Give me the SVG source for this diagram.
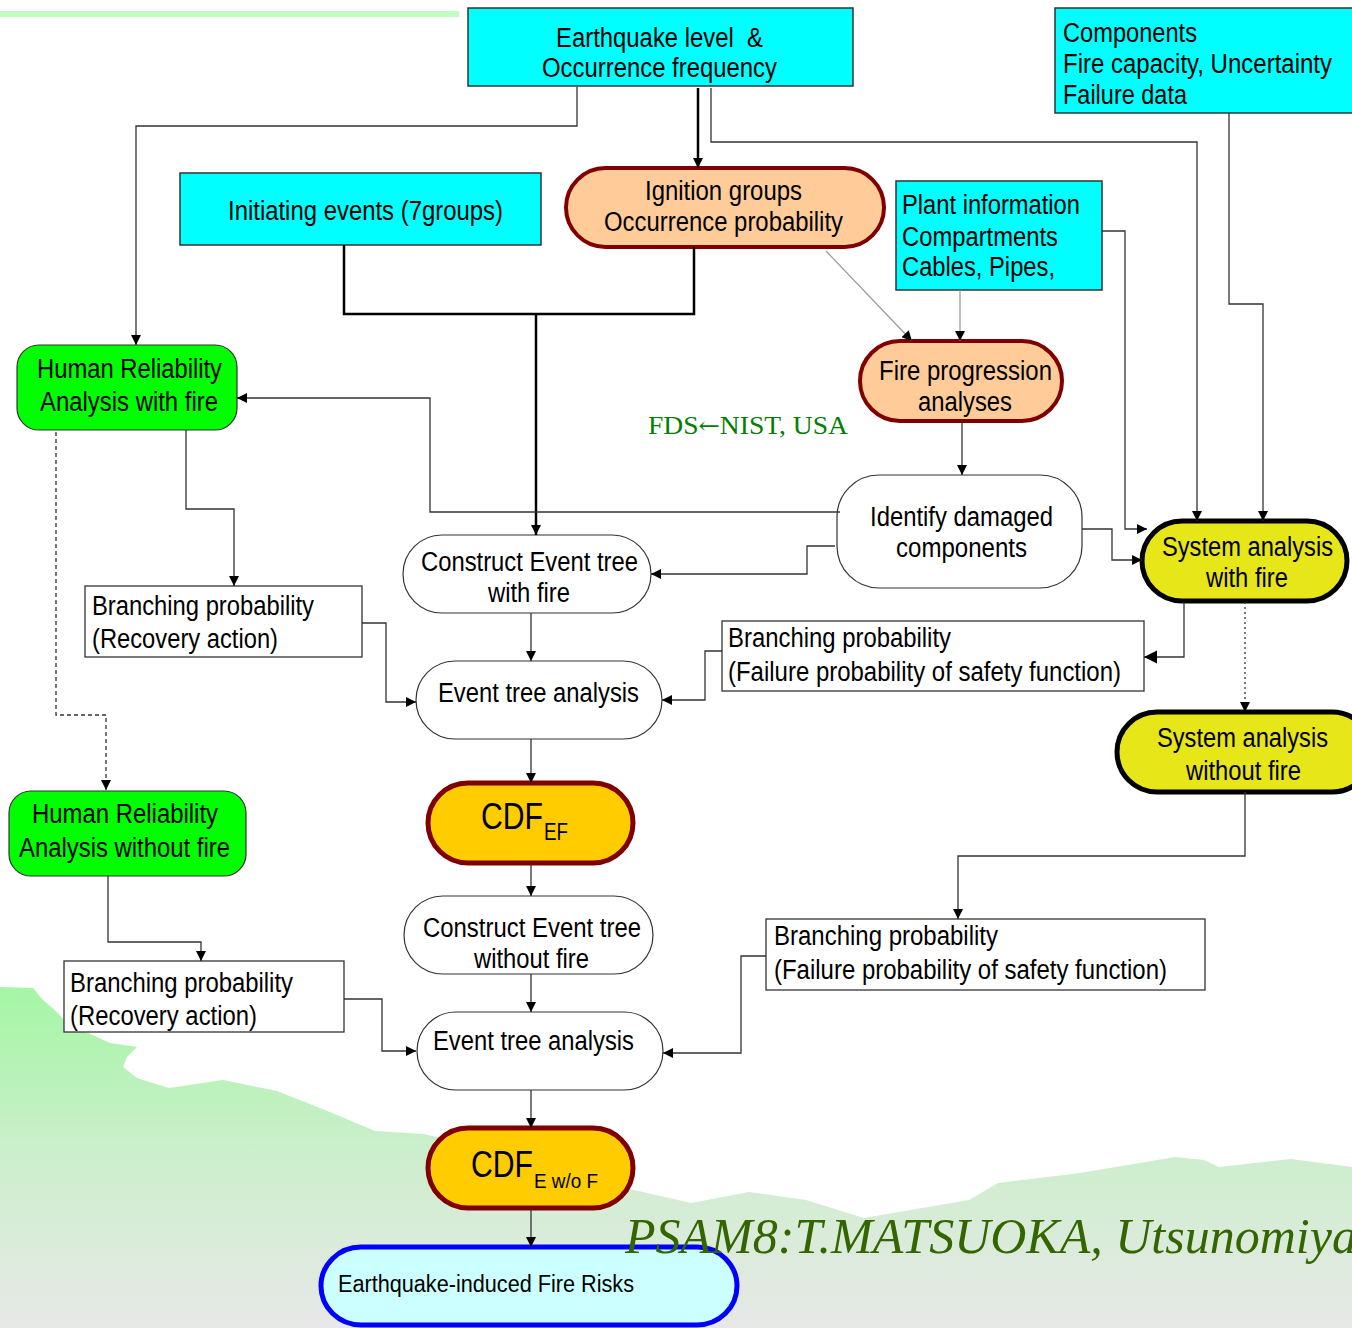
<svg xmlns="http://www.w3.org/2000/svg" width="1352" height="1328" viewBox="0 0 1352 1328">
<style>
.t{font-family:"Liberation Sans Narrow","Liberation Sans",Arial,sans-serif;font-size:27px;fill:#000}
.cyan{fill:#00ffff;stroke:#333;stroke-width:1.5}
.box{fill:#fff;stroke:#333;stroke-width:1.3}
.wst{fill:#fff;stroke:#333;stroke-width:1.2}
.peach{fill:#ffcc99;stroke:#800000;stroke-width:4}
.green{fill:#00ff00;stroke:#333;stroke-width:1.2}
.yel{fill:#e6e619;stroke:#000;stroke-width:5}
.cdf{fill:#ffcc00;stroke:#800000;stroke-width:5}
.c{fill:none;stroke:#333;stroke-width:1.3}
.thick{fill:none;stroke:#000;stroke-width:2.5}
.lg{fill:none;stroke:#999;stroke-width:1.2}
</style>
<defs>
<linearGradient id="hill" gradientUnits="userSpaceOnUse" x1="0" y1="985" x2="0" y2="1328">
<stop offset="0" stop-color="#a4f6a4"/>
<stop offset="0.5" stop-color="#cdeecd"/>
<stop offset="1" stop-color="#e8e8e8"/>
</linearGradient>
<marker id="ah" viewBox="0 0 10 10" refX="10" refY="5" markerWidth="11" markerHeight="10" markerUnits="userSpaceOnUse" orient="auto"><path d="M0,0 L10,5 L0,10 z" fill="#000"/></marker>
<marker id="ahb" viewBox="0 0 10 10" refX="10" refY="5" markerWidth="13" markerHeight="22" markerUnits="userSpaceOnUse" orient="auto"><path d="M0,0 L10,5 L0,10 z" fill="#000"/></marker>
</defs>
<rect x="0" y="0" width="1352" height="1328" fill="#fff"/>
<path d="M0,987 L33,988 L43,1000 L58,1013 L70,1027 L88,1033 L110,1043 L137,1047 L127,1057 L123,1067 L137,1078 L143,1080 L169,1088 L223,1080 L277,1091 L330,1112 L375,1131 L424,1134 L530,1160 L634,1190 L691,1203 L749,1192 L806,1200 L864,1218 L969,1200 L998,1183 L1080,1173 L1175,1157 L1204,1160 L1219,1167 L1291,1159 L1352,1167 L1352,1328 L0,1328 Z" fill="url(#hill)"/>
<rect x="0" y="11" width="459" height="6" fill="#c0ffc0"/>

<g id="n-earthquake">
<rect x="468" y="8" width="385" height="78" class="cyan"/>
<text class="t" x="556" y="47" textLength="207" lengthAdjust="spacingAndGlyphs" xml:space="preserve">Earthquake level  &amp;</text>
<text class="t" x="542" y="77" textLength="235" lengthAdjust="spacingAndGlyphs">Occurrence frequency</text>
</g>
<g id="n-components">
<rect x="1055" y="8" width="320" height="105" class="cyan"/>
<text class="t" x="1063" y="42" textLength="134" lengthAdjust="spacingAndGlyphs">Components</text>
<text class="t" x="1063" y="73" textLength="269" lengthAdjust="spacingAndGlyphs">Fire capacity, Uncertainty</text>
<text class="t" x="1063" y="104" textLength="124" lengthAdjust="spacingAndGlyphs">Failure data</text>
</g>
<g id="n-initiating">
<rect x="180" y="173" width="361" height="72" class="cyan"/>
<text class="t" x="228" y="220" textLength="275" lengthAdjust="spacingAndGlyphs">Initiating events (7groups)</text>
</g>
<g id="n-ignition">
<rect x="566" y="168" width="318" height="79" rx="39.5" class="peach"/>
<text class="t" x="645" y="200" textLength="157" lengthAdjust="spacingAndGlyphs">Ignition groups</text>
<text class="t" x="604" y="231" textLength="239" lengthAdjust="spacingAndGlyphs">Occurrence probability</text>
</g>
<g id="n-plant">
<rect x="896" y="181" width="206" height="109" class="cyan"/>
<text class="t" x="902" y="214" textLength="178" lengthAdjust="spacingAndGlyphs">Plant information</text>
<text class="t" x="902" y="246" textLength="156" lengthAdjust="spacingAndGlyphs">Compartments</text>
<text class="t" x="902" y="276" textLength="153" lengthAdjust="spacingAndGlyphs">Cables, Pipes,</text>
</g>
<g id="n-fireprog">
<rect x="860" y="341" width="202" height="80" rx="40" class="peach"/>
<text class="t" x="879" y="380" textLength="173" lengthAdjust="spacingAndGlyphs">Fire progression</text>
<text class="t" x="918" y="411" textLength="94" lengthAdjust="spacingAndGlyphs">analyses</text>
</g>
<g id="n-fds">
<text x="648" y="434" font-family="'Liberation Serif','Times New Roman',serif" font-size="26" fill="#008000" textLength="200" lengthAdjust="spacingAndGlyphs">FDS<tspan font-family="'DejaVu Serif',serif" font-size="24">←</tspan>NIST, USA</text>
</g>
<g id="n-hra-fire">
<rect x="17" y="345" width="220" height="85" rx="22" class="green"/>
<text class="t" x="37" y="378" textLength="185" lengthAdjust="spacingAndGlyphs">Human Reliability</text>
<text class="t" x="40" y="411" textLength="178" lengthAdjust="spacingAndGlyphs">Analysis with fire</text>
</g>
<g id="n-identify">
<rect x="837" y="475" width="245" height="113" rx="42" class="wst"/>
<text class="t" x="870" y="526" textLength="183" lengthAdjust="spacingAndGlyphs">Identify damaged</text>
<text class="t" x="896" y="557" textLength="131" lengthAdjust="spacingAndGlyphs">components</text>
</g>
<g id="n-sys-fire">
<rect x="1142" y="521" width="205" height="80" rx="40" class="yel"/>
<text class="t" x="1162" y="556" textLength="171" lengthAdjust="spacingAndGlyphs">System analysis</text>
<text class="t" x="1206" y="587" textLength="82" lengthAdjust="spacingAndGlyphs">with fire</text>
</g>
<g id="n-cet-fire">
<rect x="403" y="535" width="248" height="78" rx="39" class="wst"/>
<text class="t" x="421" y="571" textLength="217" lengthAdjust="spacingAndGlyphs">Construct Event tree</text>
<text class="t" x="488" y="602" textLength="82" lengthAdjust="spacingAndGlyphs">with fire</text>
</g>
<g id="n-bp1">
<rect x="85" y="586" width="277" height="71" class="box"/>
<text class="t" x="92" y="615" textLength="222" lengthAdjust="spacingAndGlyphs">Branching probability</text>
<text class="t" x="92" y="648" textLength="186" lengthAdjust="spacingAndGlyphs">(Recovery action)</text>
</g>
<g id="n-bp2">
<rect x="722" y="621" width="422" height="70" class="box"/>
<text class="t" x="728" y="647" textLength="223" lengthAdjust="spacingAndGlyphs">Branching probability</text>
<text class="t" x="728" y="681" textLength="393" lengthAdjust="spacingAndGlyphs">(Failure probability of safety function)</text>
</g>
<g id="n-eta1">
<rect x="416" y="661" width="246" height="78" rx="39" class="wst"/>
<text class="t" x="438" y="702" textLength="201" lengthAdjust="spacingAndGlyphs">Event tree analysis</text>
</g>
<g id="n-sys-nofire">
<rect x="1117" y="712" width="255" height="80" rx="40" class="yel"/>
<text class="t" x="1157" y="747" textLength="171" lengthAdjust="spacingAndGlyphs">System analysis</text>
<text class="t" x="1186" y="780" textLength="115" lengthAdjust="spacingAndGlyphs">without fire</text>
</g>
<g id="n-hra-nofire">
<rect x="9" y="791" width="237" height="85" rx="22" class="green"/>
<text class="t" x="32" y="823" textLength="186" lengthAdjust="spacingAndGlyphs">Human Reliability</text>
<text class="t" x="19" y="857" textLength="211" lengthAdjust="spacingAndGlyphs">Analysis without fire</text>
</g>
<g id="n-cdf-ef">
<rect x="428" y="783" width="205" height="80" rx="40" class="cdf"/>
<text class="t" x="481" y="829" style="font-size:36px" textLength="62" lengthAdjust="spacingAndGlyphs">CDF</text>
<text class="t" x="544" y="840" style="font-size:23px" textLength="24" lengthAdjust="spacingAndGlyphs">EF</text>
</g>
<g id="n-cet-nofire">
<rect x="404" y="896" width="249" height="78" rx="39" class="wst"/>
<text class="t" x="423" y="937" textLength="218" lengthAdjust="spacingAndGlyphs">Construct Event tree</text>
<text class="t" x="474" y="968" textLength="115" lengthAdjust="spacingAndGlyphs">without fire</text>
</g>
<g id="n-bp3">
<rect x="64" y="961" width="280" height="71" class="box"/>
<text class="t" x="70" y="992" textLength="223" lengthAdjust="spacingAndGlyphs">Branching probability</text>
<text class="t" x="70" y="1025" textLength="187" lengthAdjust="spacingAndGlyphs">(Recovery action)</text>
</g>
<g id="n-bp4">
<rect x="766" y="919" width="439" height="71" class="box"/>
<text class="t" x="774" y="945" textLength="224" lengthAdjust="spacingAndGlyphs">Branching probability</text>
<text class="t" x="774" y="979" textLength="393" lengthAdjust="spacingAndGlyphs">(Failure probability of safety function)</text>
</g>
<g id="n-eta2">
<rect x="417" y="1012" width="246" height="78" rx="39" class="wst"/>
<text class="t" x="433" y="1050" textLength="201" lengthAdjust="spacingAndGlyphs">Event tree analysis</text>
</g>
<g id="n-cdf-ewof">
<rect x="428" y="1128" width="205" height="80" rx="40" class="cdf"/>
<text class="t" x="471" y="1177" style="font-size:36px" textLength="62" lengthAdjust="spacingAndGlyphs">CDF</text>
<text class="t" x="534" y="1188" style="font-size:21px" textLength="64" lengthAdjust="spacingAndGlyphs" xml:space="preserve">E w/o F</text>
</g>
<g id="n-risks">
<rect x="321" y="1247" width="416" height="78" rx="40" fill="#ccffff" stroke="#0000ff" stroke-width="5"/>
<text class="t" x="338" y="1292" style="font-size:23px" textLength="296" lengthAdjust="spacingAndGlyphs">Earthquake-induced Fire Risks</text>
</g>
<g id="n-credit">
<text x="625" y="1253" font-family="'Liberation Serif','Times New Roman',serif" font-style="italic" font-size="50" fill="#336600">PSAM8:T.MATSUOKA, Utsunomiya</text>
</g>

<g id="connectors">
<path class="c" d="M577,87 V126 H136 V345" marker-end="url(#ah)"/>
<path class="thick" d="M698,88 V168" marker-end="url(#ah)"/>
<path class="c" d="M711,88 V142 H1197 V521" marker-end="url(#ah)"/>
<path class="c" d="M1229,113 V304 H1263 V521" marker-end="url(#ah)"/>
<path class="c" d="M1102,231 H1125 V529 H1147" marker-end="url(#ah)"/>
<path class="lg" d="M960,290 V341" marker-end="url(#ah)"/>
<path class="lg" d="M826,251 L912,341" marker-end="url(#ah)"/>
<path class="thick" d="M344,245 V314 H694 V247"/>
<path class="thick" d="M536,314 V535" marker-end="url(#ah)"/>
<path class="c" d="M962,421 V475" marker-end="url(#ah)"/>
<path class="c" d="M840,512 H430 V398 H237" marker-end="url(#ah)"/>
<path class="c" d="M835,546 H807 V574 H651" marker-end="url(#ah)"/>
<path class="c" d="M1082,529 H1112 V560 H1142" marker-end="url(#ah)"/>
<path class="c" d="M1184,602 V657 H1144" marker-end="url(#ahb)"/>
<path class="c" d="M1245,602 V712" stroke-dasharray="2,3" marker-end="url(#ah)"/>
<path class="c" d="M722,651 H705 V700 H662" marker-end="url(#ah)"/>
<path class="c" d="M362,623 H386 V702 H416" marker-end="url(#ah)"/>
<path class="c" d="M186,430 V509 H234 V586" marker-end="url(#ah)"/>
<path class="c" d="M56,432 V715 H106 V790" stroke-dasharray="4,3" marker-end="url(#ah)"/>
<path class="c" d="M531,613 V661" marker-end="url(#ah)"/>
<path class="c" d="M531,739 V783" marker-end="url(#ah)"/>
<path class="c" d="M531,863 V896" marker-end="url(#ah)"/>
<path class="c" d="M531,974 V1012" marker-end="url(#ah)"/>
<path class="c" d="M1245,792 V856 H958 V919" marker-end="url(#ah)"/>
<path class="c" d="M766,956 H741 V1053 H663" marker-end="url(#ah)"/>
<path class="c" d="M108,876 V942 H201 V961" marker-end="url(#ah)"/>
<path class="c" d="M344,999 H382 V1051 H416" marker-end="url(#ah)"/>
<path class="c" d="M531,1090 V1128" marker-end="url(#ah)"/>
<path class="c" d="M531,1208 V1247" marker-end="url(#ah)"/>
</g>
</svg>
